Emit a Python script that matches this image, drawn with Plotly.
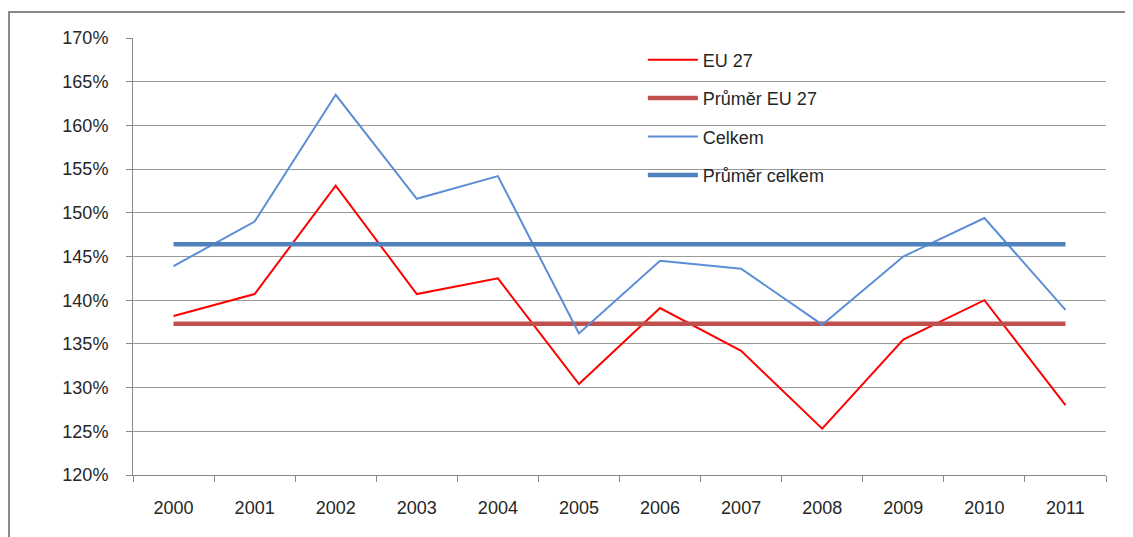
import plotly.graph_objects as go

years = ["2000", "2001", "2002", "2003", "2004", "2005",
         "2006", "2007", "2008", "2009", "2010", "2011"]

# hodnoty v %
eu27 = [138.2, 140.7, 153.1, 140.7, 142.5, 130.4, 139.1, 134.2, 125.3, 135.5, 140.0, 128.0]
celkem = [143.9, 149.0, 163.5, 151.6, 154.2, 136.2, 144.5, 143.6, 137.2, 145.0, 149.4, 138.9]
prumer_eu27 = [137.3] * len(years)
prumer_celkem = [146.4] * len(years)

y_ticks = [120, 125, 130, 135, 140, 145, 150, 155, 160, 165, 170]
y_labels = [str(v) + "%" for v in y_ticks]

fig = go.Figure()
fig.add_trace(go.Scatter(x=years, y=eu27, mode="lines", name="EU 27",
                         line=dict(color="#FF0000", width=2), legendgroup="a"))
fig.add_trace(go.Scatter(x=years, y=prumer_eu27, mode="lines", name="Průměr EU 27",
                         line=dict(color="#C0504D", width=4.5), legendgroup="b"))
fig.add_trace(go.Scatter(x=years, y=celkem, mode="lines", name="Celkem",
                         line=dict(color="#5B8ED6", width=2), legendgroup="c"))
fig.add_trace(go.Scatter(x=years, y=prumer_celkem, mode="lines", name="Průměr celkem",
                         line=dict(color="#4F81BD", width=4.5), legendgroup="d"))

# stranka ma body margin 8px, proto jsou okraje posunute
fig.update_layout(
    width=1133, height=537,
    margin=dict(l=125, r=35, t=30, b=70),
    paper_bgcolor="white", plot_bgcolor="white",
    font=dict(family="Liberation Sans, Arial, sans-serif", size=18, color="#262626"),
    showlegend=True,
    legend=dict(x=0.524, y=0.992, xanchor="left", yanchor="top",
                bgcolor="rgba(0,0,0,0)", traceorder="grouped", tracegroupgap=12,
                itemwidth=50, font=dict(size=18)),
    xaxis=dict(type="category", range=[-0.5, 11.5], showgrid=False,
               showline=True, linecolor="#888888",
               ticks="outside", tickson="boundaries", ticklen=6, tickcolor="#888888",
               ticklabelstandoff=16),
    yaxis=dict(range=[120, 170], tickvals=y_ticks, ticktext=y_labels,
               showgrid=True, gridcolor="#999999", gridwidth=1,
               showline=True, linecolor="#888888", zeroline=False,
               ticks="outside", ticklen=6, tickcolor="#888888",
               ticklabelstandoff=14),
    shapes=[dict(type="rect", xref="paper", yref="paper",
                 x0=-0.1274, x1=1.05, y0=-0.2, y1=1.0595,
                 line=dict(color="#888888", width=2), layer="below")],
)

fig.write_html("out.html")
